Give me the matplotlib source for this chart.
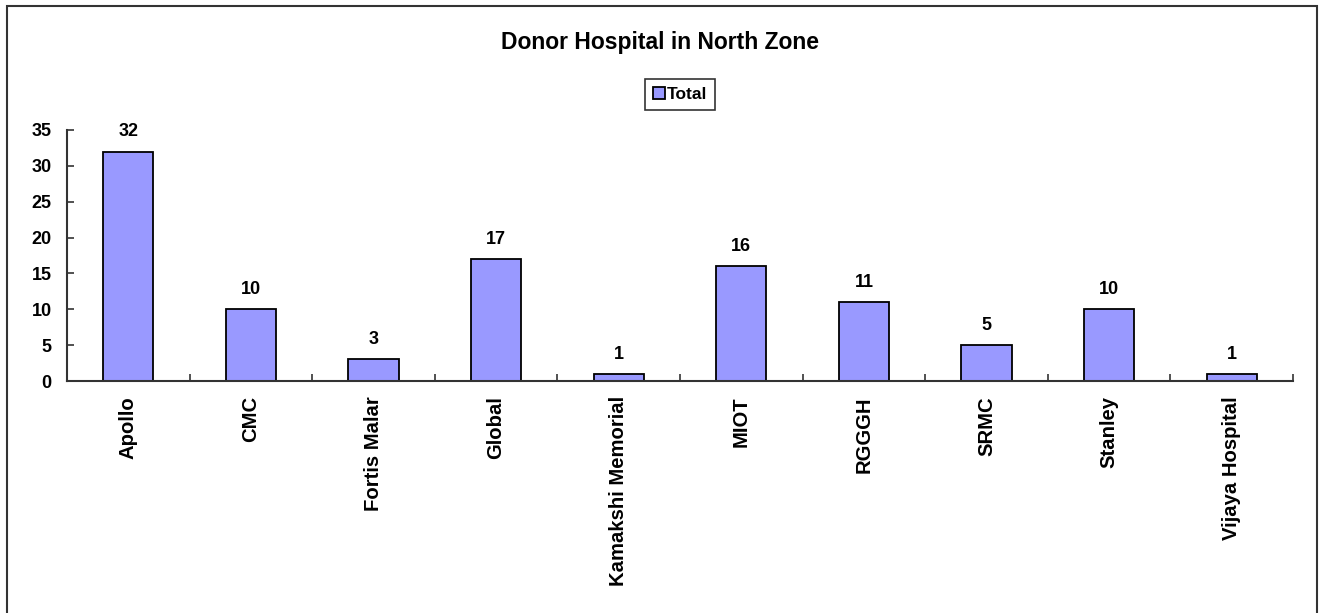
import numpy as np
import matplotlib.pyplot as plt
from matplotlib.patches import Rectangle

# Donor hospitals, north zone
Hospitals=['Apollo','CMC','Fortis Malar','Global','Kamakshi Memorial','MIOT','RGGGH','SRMC','Stanley','Vijaya Hospital']
Total=[32,10,3,17,1,16,11,5,10,1]
YTicks=[0,5,10,15,20,25,30,35]

plt.rcParams['font.family']=['Liberation Sans','DejaVu Sans']
plt.rcParams['font.weight']='bold'

W,H=1325,613
f=plt.figure(figsize=(W/100,H/100),dpi=100)
# axes box in pixels: x 67..1293, y 130..381 (top is 35)
ax1=f.add_axes([67/W,1-381/H,(1293-67)/W,(381-130)/H])

x=np.arange(len(Hospitals))
bars=ax1.bar(x,Total,width=0.41,color='#9999FF',edgecolor='black',linewidth=1.3,label='Total')
for b,v in zip(bars,Total):
    ax1.annotate(str(v),(b.get_x()+b.get_width()/2,v),xytext=(0,8),textcoords='offset points',
                 ha='center',va='bottom',fontsize=13,fontweight='bold')

ax1.set_xlim(-0.5,len(Hospitals)-0.5)
ax1.set_ylim(0,35)
ax1.set_yticks(YTicks)
ax1.set_yticklabels([str(t) for t in YTicks],fontsize=13,fontweight='bold')
ax1.set_xticks(x)
ax1.set_xticklabels(Hospitals,rotation=90,fontsize=14.6,fontweight='bold')
ax1.tick_params(axis='x',length=0,pad=11)
ax1.set_xticks(np.arange(len(Hospitals))+0.5,minor=True)
ax1.tick_params(axis='x',which='minor',direction='in',length=5,width=1.2,color='#333333')
ax1.tick_params(axis='y',direction='in',length=5,width=1.2,color='#333333',pad=11)
ax1.spines['top'].set_visible(False)
ax1.spines['right'].set_visible(False)
for s in ['left','bottom']:
    ax1.spines[s].set_linewidth(1.5)
    ax1.spines[s].set_color('#333333')

f.text(660/W,1-42/H,'Donor Hospital in North Zone',ha='center',va='center',fontsize=16.5,fontweight='bold')
leg=ax1.legend(loc='center',bbox_to_anchor=(680/W,1-94.5/H),bbox_transform=f.transFigure,
               fontsize=12.5,frameon=True,fancybox=False,handlelength=0.7,handleheight=0.7,
               handletextpad=0.1,borderpad=0.45,edgecolor='black')
leg.get_frame().set_linewidth(1.2)

# outer chart border
f.patches.append(Rectangle((7/W,-0.05),(1317-7)/W,1-6/H+0.05,transform=f.transFigure,
                           fill=False,edgecolor='#333333',linewidth=1.5))

f.savefig('out.png',dpi=100)
